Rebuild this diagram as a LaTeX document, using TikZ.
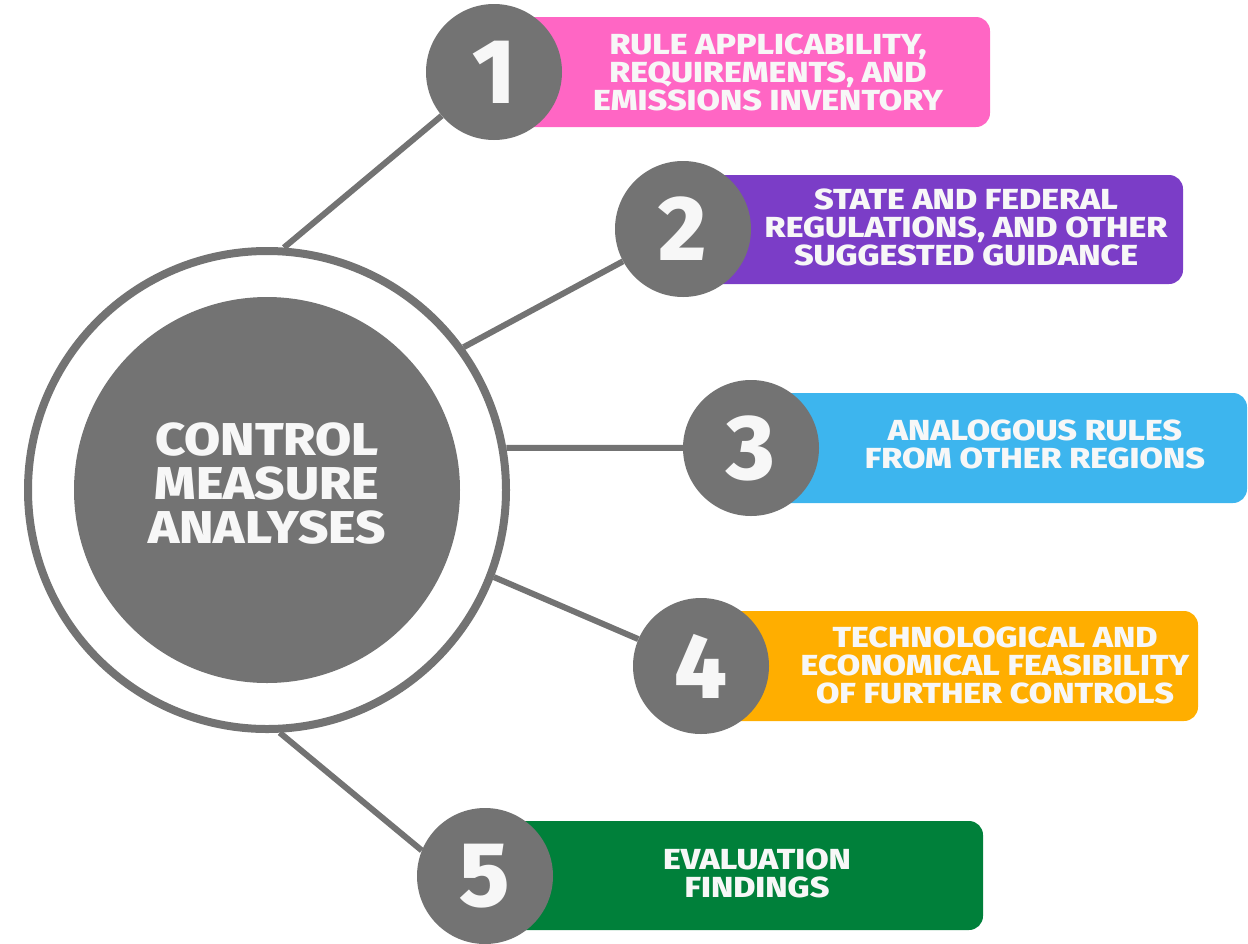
\documentclass[tikz,border=0pt]{standalone}
\usepackage{fontspec}
\newfontfamily\heavy{Fira Sans ExtraBold}
\newfontfamily\heavyw{Fira Sans ExtraBold}[FakeStretch=1.17]
\newfontfamily\heavyh{Fira Sans ExtraBold}[FakeStretch=1.14]
\definecolor{gr}{HTML}{737373}
\definecolor{pinkc}{HTML}{FF66C4}
\definecolor{purplec}{HTML}{7B3DC7}
\definecolor{bluec}{HTML}{3DB5EE}
\definecolor{orangec}{HTML}{FFAE00}
\definecolor{greenc}{HTML}{00803A}
\definecolor{txt}{HTML}{F7F7F7}
\begin{document}
\begin{tikzpicture}[x=1pt,y=-1pt,
  num/.style={circle, fill=gr, minimum size=136pt, inner sep=0pt, text=txt,
    font=\heavy\fontsize{92}{92}\selectfont},
  lbl/.style={text=txt, font=\heavyw\fontsize{29}{28}\selectfont, align=center, inner sep=0pt},
  bar/.style={rounded corners=14pt},
  conn/.style={draw=gr, line width=6pt}]
\useasboundingbox (0,0) rectangle (1248,943);
% hub
\node[circle, draw=gr, line width=8pt, minimum size=478pt, inner sep=0pt] (ring) at (267,490) {};
\node[circle, fill=gr, minimum size=386pt, inner sep=0pt] (hub) at (267,490) {};
\node[text=txt, font=\heavyh\fontsize{46}{44}\selectfont, align=center, inner sep=0pt] (hubtxt) at (267,484) {CONTROL\\MEASURE\\ANALYSES};
% bars
\fill[pinkc, bar] (494,17) rectangle (990,127);
\fill[purplec, bar] (683,175) rectangle (1183,284);
\fill[bluec, bar] (751,393) rectangle (1247,503);
\fill[orangec, bar] (701,611) rectangle (1198,721);
\fill[greenc, bar] (485,821) rectangle (983,930);
% number circles
\node[num] (n1) at (494,72) {1};
\node[num] (n2) at (683,229) {2};
\node[num] (n3) at (751,448) {3};
\node[num] (n4) at (701,666) {4};
\node[num] (n5) at (485,876) {5};
% labels
\node[lbl] (l1) at (768,72) {RULE APPLICABILITY,\\REQUIREMENTS, AND\\EMISSIONS INVENTORY};
\node[lbl] (l2) at (966,227) {STATE AND FEDERAL\\REGULATIONS, AND OTHER\\SUGGESTED GUIDANCE};
\node[lbl] (l3) at (1035,444) {ANALOGOUS RULES\\FROM OTHER REGIONS};
\node[lbl] (l4) at (995,665) {TECHNOLOGICAL AND\\ECONOMICAL FEASIBILITY\\OF FURTHER CONTROLS};
\node[lbl] (l5) at (757,873) {EVALUATION\\FINDINGS};
% connectors
\draw[conn] (ring.86) -- (n1);
\draw[conn] (ring.36) -- (n2);
\draw[conn] (ring.10.5) -- (n3);
\draw[conn] (ring.-21) -- (n4);
\draw[conn] (ring.-87) -- (n5.158);
\end{tikzpicture}
\end{document}
